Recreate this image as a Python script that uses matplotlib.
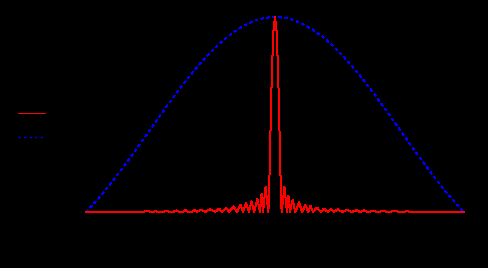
import matplotlib
matplotlib.use('Agg')
import matplotlib.pyplot as plt

# grating intensity (red) and single-slit envelope (blue), normalised
RED_X = [
    -1.000, -0.709, -0.704, -0.677, -0.648, -0.632, -0.619, -0.593, -0.574,
    -0.556, -0.540, -0.521, -0.503, -0.487, -0.474, -0.460, -0.439, -0.426,
    -0.413, -0.392, -0.370, -0.344, -0.317, -0.296, -0.280, -0.259, -0.243,
    -0.220, -0.201, -0.183, -0.169, -0.153, -0.138, -0.124, -0.111, -0.093,
    -0.079, -0.071, -0.063, -0.050, -0.035, -0.030, -0.023, -0.017, -0.009,
    0.000, 0.009, 0.017, 0.023, 0.030, 0.035, 0.050, 0.063, 0.071, 0.079,
    0.093, 0.108, 0.127, 0.143, 0.161, 0.175, 0.188, 0.201, 0.222, 0.243,
    0.259, 0.280, 0.296, 0.312, 0.333, 0.354, 0.381, 0.407, 0.429, 0.450,
    0.471, 0.492, 0.519, 0.545, 0.571, 0.598, 0.608, 0.635, 0.656, 0.677,
    0.698, 0.720, 1.000
]
RED_Y = [
    0, 0, 0, 0.005, 0, 0.005, 0, 0, 0.005,
    0, 0, 0.008, 0, 0, 0.010, 0, 0, 0.010,
    0, 0.013, 0, 0.015, 0, 0.017, 0, 0.022, 0,
    0.029, 0, 0.037, 0, 0.046, 0, 0.055, 0, 0.068,
    0, 0.092, 0, 0.128, 0, 0.15, 0.45, 0.70, 0.92,
    1.0, 0.92, 0.70, 0.45, 0.15, 0, 0.128, 0, 0.082, 0,
    0.062, 0, 0.051, 0, 0.036, 0, 0.031, 0, 0.023, 0,
    0.017, 0, 0.015, 0, 0.014, 0, 0.012, 0, 0.010, 0,
    0.008, 0, 0.005, 0, 0.005, 0, 0, 0.007, 0, 0,
    0.004, 0, 0
]
BLUE_X = [
    -1.00, -0.95, -0.90, -0.85, -0.80, -0.75, -0.70, -0.65, -0.60, -0.55,
    -0.50, -0.45, -0.40, -0.35, -0.30, -0.25, -0.20, -0.15, -0.10, -0.05,
    0.00, 0.05, 0.10, 0.15, 0.20, 0.25, 0.30, 0.35, 0.40, 0.45,
    0.50, 0.55, 0.60, 0.65, 0.70, 0.75, 0.80, 0.85, 0.90, 0.95, 1.00
]
BLUE_Y = [
    0.000, 0.052, 0.109, 0.170, 0.234, 0.300, 0.368, 0.436, 0.505, 0.572,
    0.637, 0.699, 0.757, 0.810, 0.858, 0.900, 0.935, 0.963, 0.984, 0.996,
    1.000, 0.996, 0.984, 0.963, 0.935, 0.900, 0.858, 0.810, 0.757, 0.699,
    0.637, 0.572, 0.505, 0.436, 0.368, 0.300, 0.234, 0.170, 0.109, 0.052,
    0.000
]
assert len(RED_X) == len(RED_Y)
assert len(BLUE_X) == len(BLUE_Y)

fig = plt.figure(figsize=(4.88, 2.68), dpi=100, facecolor='black')
ax = fig.add_axes([86 / 488, 56 / 268, 378 / 488, 195 / 268])
ax.set_facecolor('black')

blue, = ax.plot(BLUE_X, BLUE_Y, color='#0000ff', lw=1.0,
                linestyle=(0, (1.5, 2.5)), antialiased=False,
                clip_on=False, label='Env.', zorder=2)
red, = ax.plot(RED_X, RED_Y, color='#ff0000', lw=0.72, antialiased=False,
               clip_on=False, label='I', zorder=3)

ax.set_xlim(-1, 1)
ax.set_ylim(0, 1)
for side in ax.spines.values():
    side.set_visible(False)
ax.set_xticks([])
ax.set_yticks([])

leg = fig.legend(handles=[red, blue], loc='upper left',
                 bbox_to_anchor=(0.012, 0.647), frameon=False,
                 handlelength=1.95, labelspacing=0.7, fontsize=10)
for t in leg.get_texts():
    t.set_color('black')

fig.savefig('out.png', dpi=100, facecolor='black')
